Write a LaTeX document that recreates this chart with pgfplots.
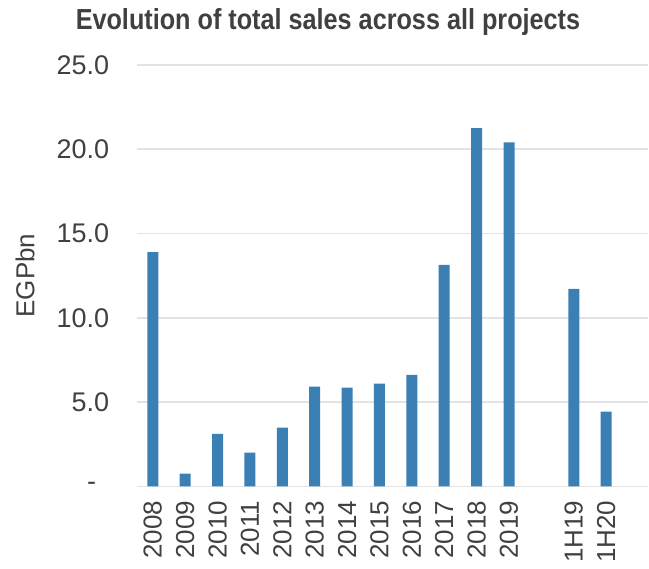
\documentclass[border=0pt]{standalone}
\usepackage{fontspec}
\setmainfont{Liberation Sans}
\newfontfamily\titlefont[FakeStretch=0.87]{Liberation Sans}
\usepackage{pgfplots}
\pgfplotsset{compat=1.18}
\definecolor{barblue}{HTML}{3A80B5}
\definecolor{txt}{HTML}{404040}
\definecolor{gridgray}{HTML}{E3E3E3}

\begin{document}
\begin{tikzpicture}
\begin{axis}[
  scale only axis,
  width=512pt, height=421.7pt,
  ybar, bar width=11pt,
  xmin=-0.5, xmax=15.3,
  ymin=0, ymax=25,
  xtick={0,1,2,3,4,5,6,7,8,9,10,11,13,14},
  xticklabels={2008,2009,2010,2011,2012,2013,2014,2015,2016,2017,2018,2019,1H19,1H20},
  ytick={0,5,10,15,20,25},
  yticklabels={-\hspace*{13pt},5.0,10.0,15.0,20.0,25.0},
  axis line style={draw=none},
  major tick length=0pt,
  ymajorgrids,
  major grid style={gridgray, line width=1.5pt},
  xticklabel style={yshift=-11pt, rotate=90, anchor=east, font=\fontsize{26}{31}\selectfont, text=txt},
  yticklabel style={anchor=east, xshift=-24pt, font=\fontsize{27}{32}\selectfont, text=txt},
  ylabel={EGPbn},
  ylabel style={at={(axis description cs:-0.218,0.5)}, rotate=0, anchor=center, font=\fontsize{26}{31}\selectfont, text=txt},
  title={Evolution of total sales across all projects},
  title style={at={(axis description cs:0.374,1)}, anchor=base, yshift=29pt, font=\titlefont\bfseries\fontsize{29}{34}\selectfont, text=txt},
]
\addplot[fill=barblue, draw=none] coordinates {
  (0,13.9) (1,0.75) (2,3.12) (3,2.0) (4,3.48) (5,5.91) (6,5.86) (7,6.09)
  (8,6.62) (9,13.14) (10,21.25) (11,20.4) (13,11.72) (14,4.43)
};
\end{axis}
\path[use as bounding box] ([xshift=-136.7pt,yshift=-82.3pt]current axis.south west) rectangle ([yshift=65pt]current axis.north east);
\end{tikzpicture}
\end{document}
